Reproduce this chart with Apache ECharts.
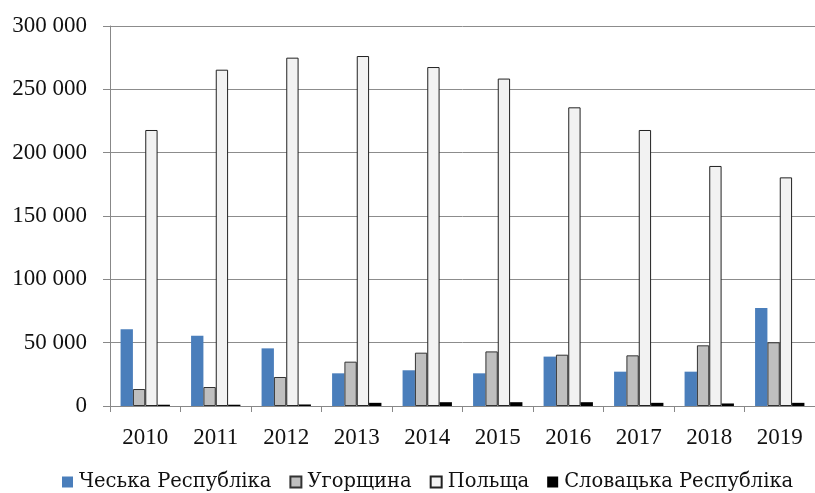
<!DOCTYPE html>
<html>
<head>
<meta charset="utf-8">
<script src="https://cdn.jsdelivr.net/npm/echarts/dist/echarts.min.js"></script>
<style>
  html, body { margin: 0; padding: 0; background: #fff; }
  #chart { width: 815px; height: 493px; }
</style>
</head>
<body>
<div id="chart"></div>
<script>
  // years on the x axis
  var years = ['2010', '2011', '2012', '2013', '2014', '2015', '2016', '2017', '2018', '2019'];
  // series values
  var czech = [60500, 55500, 45500, 25800, 28200, 25800, 39000, 27100, 27100, 77400];
  var hungary = [13400, 15000, 22900, 35000, 42100, 43100, 40500, 40000, 47900, 50300];
  var poland = [217900, 265500, 275000, 276300, 267600, 258500, 235800, 217900, 189500, 180500];
  var slovakia = [1000, 1000, 1200, 2500, 3000, 3000, 3000, 2500, 2000, 2500];
  var seriesNames = ['Чеська Республіка', 'Угорщина', 'Польща', 'Словацька Республіка'];

  var font = 'Liberation Serif';
  var cyrFont = 'DejaVu Serif';

  var myChart = echarts.init(document.getElementById('chart'));
  var option = {
    animation: false,
    textStyle: { fontFamily: font },
    grid: { left: 110, top: 26, width: 716, height: 380, containLabel: false },
    legend: {
      data: seriesNames,
      left: 62,
      top: 472,
      padding: 0,
      itemWidth: 11,
      itemHeight: 11,
      itemGap: 18,
      icon: 'rect',
      textStyle: { fontFamily: cyrFont, fontSize: 19.5, color: '#111', padding: [0, 0, 0, 1] }
    },
    xAxis: {
      type: 'category',
      data: years,
      axisLine: { lineStyle: { color: '#888', width: 1 } },
      axisTick: { show: true, alignWithLabel: false, length: 6, lineStyle: { color: '#888' } },
      axisLabel: { fontFamily: font, fontSize: 23, color: '#111', margin: 20 }
    },
    yAxis: {
      type: 'value',
      min: 0,
      max: 300000,
      interval: 50000,
      axisLine: { show: true, lineStyle: { color: '#888', width: 1 } },
      axisTick: { show: true, length: 7, lineStyle: { color: '#888' } },
      splitLine: { lineStyle: { color: '#8c8c8c', width: 1 } },
      axisLabel: {
        fontFamily: font, fontSize: 23, color: '#111', margin: 23,
        formatter: function (v) {
          return String(v).replace(/\B(?=(\d{3})+(?!\d))/g, ' ');
        }
      }
    },
    series: [
      {
        name: seriesNames[0], type: 'bar', data: czech,
        barGap: '0%', barCategoryGap: '30%',
        itemStyle: { color: '#4a7ebb' }
      },
      {
        name: seriesNames[1], type: 'bar', data: hungary,
        itemStyle: { color: '#bfbfbf', borderColor: '#333', borderWidth: 1 }
      },
      {
        name: seriesNames[2], type: 'bar', data: poland,
        itemStyle: { color: '#f2f2f2', borderColor: '#222', borderWidth: 1 }
      },
      {
        name: seriesNames[3], type: 'bar', data: slovakia,
        itemStyle: { color: '#000' }
      }
    ]
  };
  myChart.setOption(option);
</script>
</body>
</html>
